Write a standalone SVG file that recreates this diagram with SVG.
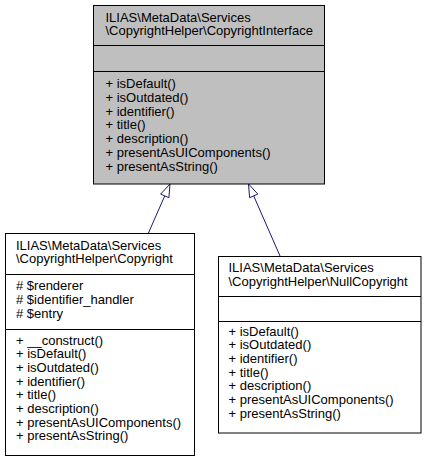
<svg xmlns="http://www.w3.org/2000/svg" width="427" height="463" viewBox="0 0 427 463">
<style>
text{font-family:"Liberation Sans",Arial,Helvetica,sans-serif;font-size:13px;fill:#000}
.box{stroke:#000;stroke-width:1}
.iface{fill:#bfbfbf}
.cls{fill:#fff}
.sep{stroke:#000;stroke-width:1}
.edge{stroke:#191970;stroke-width:1;fill:none}
.head{fill:#fff;stroke:#191970;stroke-width:1}
</style>
<rect width="427" height="463" fill="#fff"/>
<g id="edges">
<line class="edge" x1="148.3" y1="233.3" x2="164.76" y2="195.9"/>
<polygon class="head" points="170,184 168.88,197.71 160.64,194.09"/>
<line class="edge" x1="280" y1="256" x2="253.71" y2="195.91"/>
<polygon class="head" points="248.5,184 257.83,194.11 249.59,197.71"/>
</g>
<g id="CopyrightInterface">
<rect class="box iface" x="93.5" y="5.5" width="231" height="178.5"/>
<line class="sep" x1="93.5" y1="45.5" x2="324.5" y2="45.5"/>
<line class="sep" x1="93.5" y1="71.5" x2="324.5" y2="71.5"/>
<text x="105.5" y="21.5">ILIAS\MetaData\Services</text>
<text x="105.5" y="35.2">\CopyrightHelper\CopyrightInterface</text>
<text x="105.5" y="88.3">+ isDefault()</text>
<text x="105.5" y="102">+ isOutdated()</text>
<text x="105.5" y="115.7">+ identifier()</text>
<text x="105.5" y="129.4">+ title()</text>
<text x="105.5" y="143.1">+ description()</text>
<text x="105.5" y="156.8">+ presentAsUIComponents()</text>
<text x="105.5" y="170.5">+ presentAsString()</text>
</g>
<g id="Copyright">
<rect class="box cls" x="5.5" y="233.5" width="189" height="222"/>
<line class="sep" x1="5.5" y1="274.5" x2="194.5" y2="274.5"/>
<line class="sep" x1="5.5" y1="329.5" x2="194.5" y2="329.5"/>
<text x="16" y="249.5">ILIAS\MetaData\Services</text>
<text x="16" y="263.2">\CopyrightHelper\Copyright</text>
<text x="16" y="290.3"># $renderer</text>
<text x="16" y="304"># $identifier_handler</text>
<text x="16" y="317.7"># $entry</text>
<text x="16" y="344.5">+ __construct()</text>
<text x="16" y="358.2">+ isDefault()</text>
<text x="16" y="371.9">+ isOutdated()</text>
<text x="16" y="385.6">+ identifier()</text>
<text x="16" y="399.3">+ title()</text>
<text x="16" y="413">+ description()</text>
<text x="16" y="426.7">+ presentAsUIComponents()</text>
<text x="16" y="440.4">+ presentAsString()</text>
</g>
<g id="NullCopyright">
<rect class="box cls" x="218.5" y="256.5" width="202.5" height="176.5"/>
<line class="sep" x1="218.5" y1="296.5" x2="421" y2="296.5"/>
<line class="sep" x1="218.5" y1="321.5" x2="421" y2="321.5"/>
<text x="228.5" y="272">ILIAS\MetaData\Services</text>
<text x="228.5" y="285.7">\CopyrightHelper\NullCopyright</text>
<text x="228.5" y="335.5">+ isDefault()</text>
<text x="228.5" y="349.2">+ isOutdated()</text>
<text x="228.5" y="362.9">+ identifier()</text>
<text x="228.5" y="376.6">+ title()</text>
<text x="228.5" y="390.3">+ description()</text>
<text x="228.5" y="404">+ presentAsUIComponents()</text>
<text x="228.5" y="417.7">+ presentAsString()</text>
</g>
</svg>
